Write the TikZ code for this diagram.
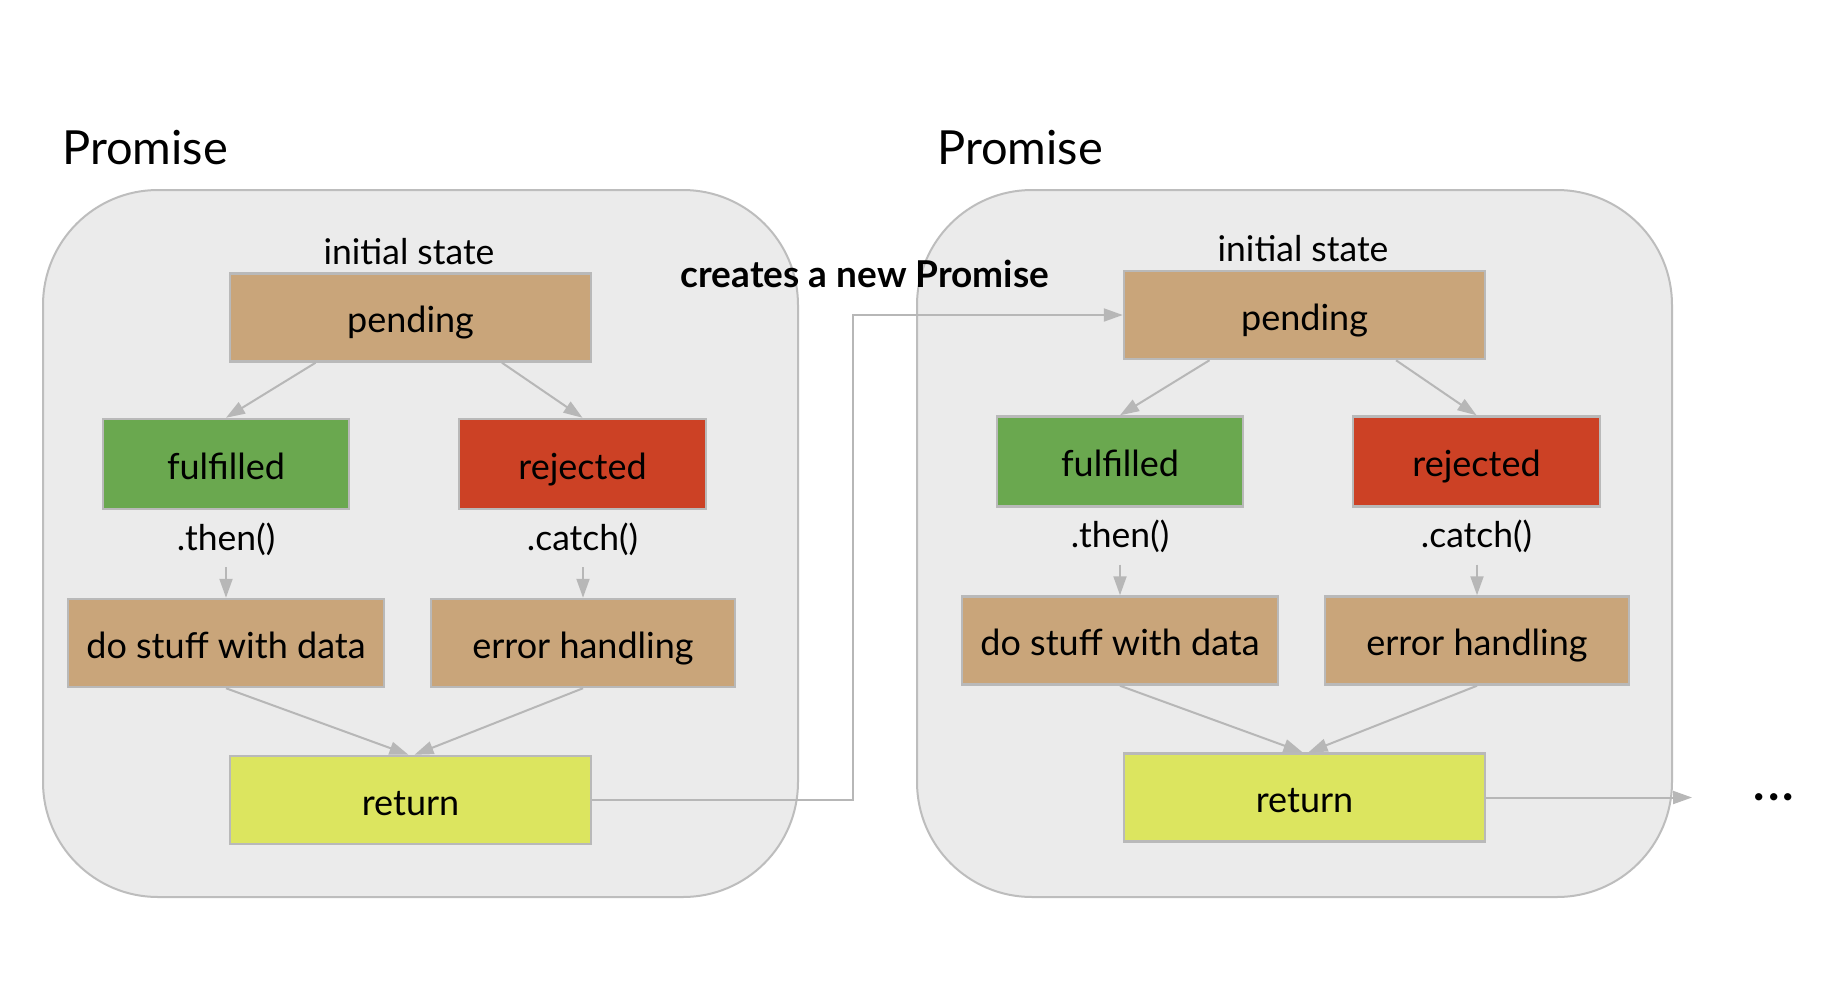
\documentclass[tikz,border=0pt]{standalone}
\usepackage{fontspec}
\setmainfont{Lato}
\usetikzlibrary{arrows.meta}
\definecolor{pendc}{HTML}{C9A57A}
\definecolor{fulc}{HTML}{6AA84F}
\definecolor{rejc}{HTML}{CC4125}
\definecolor{retc}{HTML}{DCE55F}
\definecolor{boxline}{HTML}{B9B9B9}
\definecolor{arrowc}{HTML}{B7B7B7}
\definecolor{contfill}{HTML}{EBEBEB}
\definecolor{contline}{HTML}{BDBDBD}
\newcommand\promiseparts[1]{%
  \node[lbl] (#1init) at (409,251) {initial state};
  \node[box, fill=pendc, minimum width=361pt] (#1pend) at (410.5,317.5) {pending};
  \node[box, fill=fulc, minimum width=246pt, minimum height=90pt] (#1ful) at (226,464) {fulfilled};
  \node[box, fill=rejc, minimum width=247pt, minimum height=90pt] (#1rej) at (582.5,464) {rejected};
  \node[lbl] (#1then) at (226,537) {.then()};
  \node[lbl] (#1catch) at (582.5,537) {.catch()};
  \node[box, fill=pendc, minimum width=316pt] (#1do) at (226,643) {do stuff with data};
  \node[box, fill=pendc, minimum width=304pt] (#1err) at (583,643) {error handling};
  \node[box, fill=retc, minimum width=361pt] (#1ret) at (410.5,800) {return};
  \coordinate (#1ta) at (226,567);
  \coordinate (#1ca) at (583,567);
  \draw[conn] ([xshift=-95pt]#1pend.south) -- (#1ful.north);
  \draw[conn] ([xshift=91.5pt]#1pend.south) -- (#1rej.north);
  \draw[conn] (#1ta) -- (#1do.north);
  \draw[conn] (#1ca) -- (#1err.north);
  \draw[conn] (#1do.south) -- ([xshift=-2pt]#1ret.north);
  \draw[conn] (#1err.south) -- ([xshift=4pt]#1ret.north);
}
\begin{document}
\begin{tikzpicture}[x=1pt,y=-1pt,
  box/.style={draw=boxline, line width=2.5pt, minimum height=88pt, inner sep=0pt, text height=32pt, text depth=2pt, font=\fontsize{36}{42}\selectfont},
  lbl/.style={font=\fontsize{35.5}{42}\selectfont, inner sep=0pt, text height=28pt, text depth=2pt},
  conn/.style={draw=arrowc, line width=2pt, -{Triangle[length=19pt,width=13pt]}},
  container/.style={draw=contline, fill=contfill, line width=2pt, rounded corners=115pt},
  title/.style={font=\fontsize{47}{54}\selectfont, anchor=west, inner sep=0pt}]
\useasboundingbox[fill=white] (0,0) rectangle (1832,1002);
\draw[container] (43,190) rectangle (798,897);
\draw[container] (917,190) rectangle (1672,897);
\node[title] (t1) at (62,148) {Promise};
\node[title] (t2) at (937,148) {Promise};
\promiseparts{a}
\begin{scope}[shift={(894,-2.5)}]
\promiseparts{b}
\end{scope}
\node[font=\bfseries\fontsize{37}{42}\selectfont, inner sep=0pt] (new) at (865,274) {creates a new Promise};
\coordinate (bend) at (853,315);
\draw[conn] (aret.east) -| (bend) -- (bpend.west);
\coordinate (outend) at (1692,797.5);
\draw[conn] (bret.east) -- (outend);
\node[font=\bfseries\fontsize{48}{54}\selectfont, inner sep=0pt] (dots) at (1774,797) {.\kern3pt.\kern3pt.};
\end{tikzpicture}
\end{document}
